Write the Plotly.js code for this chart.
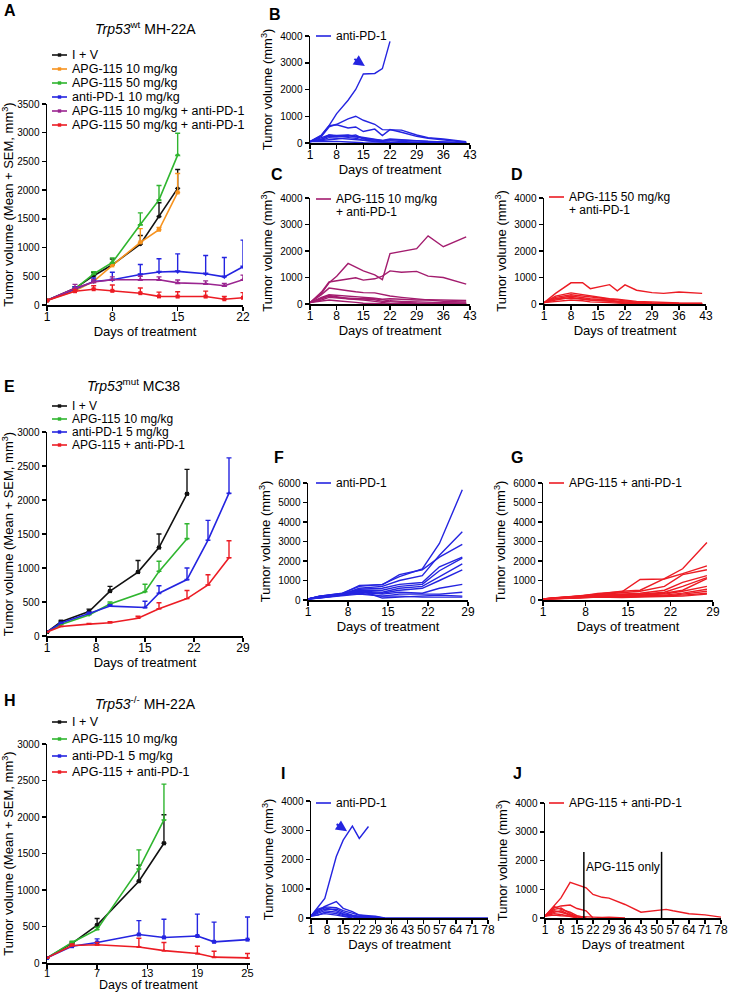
<!DOCTYPE html>
<html>
<head>
<meta charset="utf-8">
<script src="https://cdn.plot.ly/plotly-3.0.1.min.js"></script>
<style>
  html, body { margin:0; padding:0; background:#fff; }
  #fig { width:729px; height:992px; }
</style>
</head>
<body>
<div id="fig"></div>
<script>
// ---------- Panel A: Trp53 wt MH-22A, group mean + SEM ----------
const daysA = [1, 4, 6, 8, 11, 13, 15, 18, 20, 22];
const aIV      = [80, 290, 510, 700, 1060, 1540, 2030];
const aIVsem   = [0, 30, 60, 100, 150, 240, 330];
const aApg10   = [80, 250, 410, 690, 1090, 1310, 1960];
const aApg10sem= [0, 30, 40, 40, 240, 40, 330];
const aApg50   = [80, 280, 540, 740, 1400, 1830, 2610];
const aApg50sem= [0, 30, 40, 80, 205, 250, 380];
const aPD1     = [80, 280, 410, 440, 530, 575, 585, 545, 490, 665];
const aPD1sem  = [0, 40, 60, 130, 176, 230, 306, 318, 336, 465];
const aCombo10    = [80, 290, 400, 440, 440, 440, 385, 370, 335, 440];
const aCombo10sem = [0, 70, 40, 50, 60, 50, 50, 50, 40, 80];
const aCombo50    = [80, 240, 275, 247, 206, 150, 147, 147, 100, 125];
const aCombo50sem = [0, 30, 60, 100, 90, 75, 85, 95, 50, 90];

// ---------- Panel B: anti-PD-1, individual mice ----------
const daysB = [1, 4, 6, 8, 11, 13, 15, 18, 20, 22, 25, 29, 32, 36, 39, 42];
const miceB = [
  [50, 300, 650, 1100, 1600, 2000, 2580, 2600, 2780, 3800],
  [50, 250, 600, 700, 900, 1000, 850, 700, 500, 500, 480, 300, 200, 150, 100, 50],
  [50, 280, 650, 680, 560, 600, 430, 520, 280, 500, 400, 250, 180, 130, 80, 30],
  [50, 200, 300, 280, 300, 250, 200, 150, 100, 80, 50, 30, 20, 10, 0, 0],
  [50, 150, 250, 230, 250, 300, 150, 100, 80, 120, 100, 60, 40, 20, 10, 0],
  [50, 100, 200, 180, 150, 120, 100, 60, 40, 30, 20, 10, 0, 0, 0, 0],
  [50, 80, 120, 150, 200, 180, 100, 50, 30, 20, 10, 0, 0, 0, 0, 0],
  [50, 60, 80, 60, 40, 20, 10, 0, 0, 0],
  [50, 120, 300, 250, 280, 220, 180, 120, 100, 150, 120, 80, 60, 40, 20, 10]
];
const arrowB = [15.4, 2880];

// ---------- Panel C: APG-115 10 mg/kg + anti-PD-1 ----------
const daysC = [1, 4, 6, 8, 11, 13, 15, 18, 20, 22, 25, 29, 32, 36, 42];
const miceC = [
  [50, 400, 800, 1050, 1530, 1400, 1250, 1100, 920, 1900, 1970, 2090, 2570, 2160, 2530],
  [50, 450, 830, 880, 950, 990, 900, 950, 1050, 1250, 1200, 1230, 1050, 1000, 750],
  [50, 350, 600, 550, 500, 460, 430, 420, 350, 300, 250, 200, 150, 100, 80],
  [50, 250, 350, 330, 300, 260, 250, 220, 180, 200, 180, 150, 160, 150, 130],
  [50, 200, 300, 250, 220, 200, 180, 160, 100, 80, 60, 40, 30, 20, 20],
  [50, 150, 250, 230, 200, 180, 150, 100, 50, 20, 10, 0, 0, 0, 0],
  [50, 100, 150, 120, 100, 60, 30, 10, 0, 0, 0, 0, 0, 0, 0],
  [50, 200, 320, 280, 200, 180, 220, 200, 150, 120, 100, 80, 60, 50, 40]
];

// ---------- Panel D: APG-115 50 mg/kg + anti-PD-1 ----------
const daysD = [1, 4, 8, 11, 13, 18, 20, 22, 25, 29, 32, 36, 42];
const miceD = [
  [50, 400, 800, 800, 580, 730, 500, 720, 520, 430, 400, 450, 400],
  [50, 300, 420, 350, 300, 200, 180, 150, 100, 80, 60, 40, 30],
  [50, 250, 350, 300, 250, 180, 150, 100, 70, 40, 20, 10, 10],
  [50, 200, 300, 250, 200, 150, 100, 80, 50, 30, 20, 10, 0],
  [50, 150, 250, 200, 150, 100, 60, 40, 20, 10, 0, 0, 0],
  [50, 100, 150, 120, 80, 50, 30, 20, 10, 0, 0, 0, 0],
  [50, 200, 220, 180, 150, 120, 90, 60, 40, 20, 20, 20, 20]
];

// ---------- Panel E: Trp53 mut MC38, group mean + SEM ----------
const daysEiv = [1, 3, 7, 10, 14, 17, 21];
const eIV     = [60, 210, 360, 660, 940, 1300, 2090];
const eIVsem  = [0, 20, 35, 70, 170, 200, 360];
const daysEapg = [1, 3, 7, 10, 15, 17, 21];
const eApg     = [60, 170, 310, 470, 650, 950, 1430];
const eApgSem  = [0, 10, 15, 30, 110, 150, 220];
const daysEpd1 = [1, 3, 7, 10, 15, 17, 21, 24, 27];
const ePD1     = [60, 190, 330, 440, 420, 630, 830, 1410, 2100];
const ePD1sem  = [0, 10, 20, 20, 90, 110, 170, 290, 520];
const daysEcombo = [1, 3, 7, 10, 14, 17, 21, 24, 27];
const eCombo     = [60, 140, 175, 195, 260, 400, 550, 750, 1150];
const eComboSem  = [0, 5, 10, 15, 30, 90, 120, 150, 250];

// ---------- Panels F, G: MC38 individual mice ----------
const daysFG = [1, 3, 7, 10, 14, 17, 21, 24, 28];
const miceF = [
  [50, 200, 350, 700, 800, 1200, 1600, 2900, 5650],
  [50, 200, 330, 750, 780, 1300, 1550, 2200, 2850],
  [50, 180, 300, 600, 700, 1000, 1250, 2300, 3500],
  [50, 150, 300, 550, 600, 800, 900, 1700, 2200],
  [50, 180, 320, 500, 500, 700, 800, 1500, 2150],
  [50, 150, 280, 450, 400, 600, 700, 1200, 1850],
  [50, 120, 250, 400, 350, 500, 600, 1000, 1550],
  [50, 150, 300, 400, 300, 400, 350, 600, 800],
  [50, 100, 250, 350, 200, 300, 300, 300, 400],
  [50, 130, 280, 500, 100, 150, 200, 250, 200],
  [50, 100, 200, 300, 200, 200, 150, 150, 150]
];
const miceG = [
  [50, 120, 200, 330, 420, 1050, 1080, 1350, 1750],
  [50, 100, 200, 300, 450, 500, 1100, 1600, 2950],
  [50, 100, 180, 280, 350, 450, 700, 1300, 1550],
  [50, 80, 150, 250, 300, 350, 500, 900, 1250],
  [50, 100, 170, 260, 280, 300, 400, 700, 1150],
  [50, 90, 160, 230, 250, 300, 350, 500, 1100],
  [50, 80, 140, 220, 230, 250, 300, 450, 700],
  [50, 70, 130, 200, 200, 220, 250, 350, 550],
  [50, 60, 120, 180, 180, 200, 200, 300, 450],
  [50, 70, 120, 150, 150, 180, 200, 250, 350],
  [50, 60, 100, 150, 120, 150, 180, 200, 300]
];

// ---------- Panel H: Trp53 -/- MH-22A, group mean + SEM ----------
const daysH = [1, 4, 7, 12, 15, 19, 21, 25];
const hIV     = [70, 270, 520, 1120, 1640];
const hIVsem  = [0, 20, 90, 220, 390];
const hApg    = [70, 280, 460, 1290, 1960];
const hApgSem = [0, 20, 30, 260, 490];
const hPD1    = [70, 230, 280, 390, 350, 370, 290, 320];
const hPD1sem = [0, 20, 50, 190, 250, 300, 270, 310];
const hCombo    = [70, 240, 250, 220, 170, 130, 80, 70];
const hComboSem = [0, 20, 30, 120, 110, 100, 80, 60];

// ---------- Panels I, J: Trp53 -/- individual mice ----------
const daysI = [1, 4, 7, 12, 15, 19, 22, 26, 29, 33, 36, 43, 50, 57, 64, 71, 78];
const miceI = [
  [70, 390, 670, 2100, 2660, 3140, 2720, 3130],
  [70, 250, 400, 560, 330, 220, 100, 80, 60, 0, 0, 0, 0, 0, 0, 0, 0],
  [70, 300, 380, 350, 250, 150, 100, 50, 30, 0],
  [70, 200, 300, 300, 200, 100, 60, 40, 20, 0],
  [70, 250, 350, 250, 150, 80, 40, 20, 0],
  [70, 150, 250, 200, 120, 60, 20, 0],
  [70, 100, 200, 150, 80, 30, 0],
  [70, 120, 150, 100, 50, 0]
];
const arrowI = [16.7, 2970];

const daysJ = [1, 5, 8, 12, 15, 19, 22, 26, 29, 36, 43, 50, 54, 57, 64, 71, 78];
const miceJ = [
  [70, 450, 700, 1240, 1150, 1050, 820, 720, 690, 470, 200, 280, 300, 250, 150, 110, 30],
  [70, 350, 420, 450, 330, 250, 0],
  [70, 400, 300, 200, 80, 0],
  [70, 300, 350, 150, 50, 0],
  [70, 250, 200, 100, 30, 0],
  [70, 200, 250, 120, 0],
  [70, 150, 120, 50, 0],
  [70, 100, 80, 60, 50, 40, 30, 20, 30, 0]
];
const apgOnlyDays = [18, 52];
const apgOnlyTop = 2300;

// ---------- colours ----------
const C_BLACK = '#111111', C_ORANGE = '#f7931e', C_GREEN = '#2fb52f', C_BLUE = '#2424e0',
      C_PURPLE = '#9a2590', C_MAROON = '#a31c6e', C_RED = '#ec1c24';

// ---------- helpers ----------
const W = 729, H = 992;
const FONT = 'Arial, "Liberation Sans", sans-serif';
const px = v => v / W;
const py = v => 1 - v / H;
const traces = [], shapes = [], annotations = [];
const layout = {
  width: W, height: H, margin: {l:0, r:0, t:0, b:0},
  paper_bgcolor: '#ffffff', plot_bgcolor: 'rgba(0,0,0,0)', showlegend: false,
  font: {family: FONT, color: '#000'}, shapes, annotations
};

function axes(n, xPx, yPx, xRange, xTicks, yRange, yDtick, yTitle, xTitle) {
  const s = n === 1 ? '' : String(n);
  const common = {
    showline: true, linecolor: '#000', linewidth: 1.5, ticks: 'outside', ticklen: 4,
    tickwidth: 1.5, tickcolor: '#000', showgrid: false, zeroline: false, fixedrange: true
  };
  layout['xaxis' + s] = Object.assign({}, common, {
    domain: [px(xPx[0]), px(xPx[1])], range: xRange, anchor: 'y' + s,
    tickmode: 'array', tickvals: xTicks, tickfont: {size: 12}, ticklabelstandoff: -4,
    title: {text: xTitle === undefined ? 'Days of treatment' : xTitle, font: {size: 13}, standoff: 3}
  });
  layout['yaxis' + s] = Object.assign({}, common, {
    domain: [py(yPx[0]), py(yPx[1])], range: yRange, anchor: 'x' + s,
    tick0: 0, dtick: yDtick, tickfont: {size: 10},
    title: {text: yTitle, font: {size: 13}, standoff: 4}
  });
}

function meanTrace(n, days, vals, sem, color, symbol, size) {
  const s = n === 1 ? '' : String(n);
  traces.push({
    x: days.slice(0, vals.length), y: vals, xaxis: 'x' + s, yaxis: 'y' + s,
    type: 'scatter', mode: 'lines+markers', hoverinfo: 'skip',
    line: {color, width: 1.6}, marker: {color, symbol, size: size || 4},
    error_y: {type: 'data', symmetric: false, array: sem, arrayminus: sem.map(() => 0),
              color, thickness: 1.4, width: 2.5}
  });
}

function miceTraces(n, days, mice, color) {
  const s = n === 1 ? '' : String(n);
  mice.forEach(m => traces.push({
    x: days.slice(0, m.length), y: m, xaxis: 'x' + s, yaxis: 'y' + s,
    type: 'scatter', mode: 'lines', hoverinfo: 'skip', line: {color, width: 1.4}
  }));
}

function legendItem(x, y, color, text, size, withMarker) {
  shapes.push({type: 'line', xref: 'paper', yref: 'paper', x0: px(x), x1: px(x + 15),
               y0: py(y), y1: py(y), line: {color, width: 1.6}});
  if (withMarker) shapes.push({type: 'rect', xref: 'paper', yref: 'paper',
               x0: px(x + 5.8), x1: px(x + 9.2), y0: py(y + 1.7), y1: py(y - 1.7),
               fillcolor: color, line: {width: 0}});
  annotations.push({xref: 'paper', yref: 'paper', x: px(x + 19), y: py(y), xanchor: 'left',
                    yanchor: 'middle', text, showarrow: false, font: {size}, borderpad: 0});
}

function label(x, y, text, size, anchor) {
  annotations.push({xref: 'paper', yref: 'paper', x: px(x), y: py(y), xanchor: anchor || 'left',
                    yanchor: 'middle', text, showarrow: false, font: {size}, borderpad: 0});
}

const wkTicks = [1, 8, 15, 22, 29, 36, 43];
const longTicks = [1, 8, 15, 22, 29, 36, 43, 50, 57, 64, 71, 78];
const meanTitle = 'Tumor volume (Mean + SEM, mm<sup>3</sup>)';
const indTitle = 'Tumor volume (mm<sup>3</sup>)';

// ---------- axes ----------
axes(1,  [47, 243],  [305, 104], [1, 22], [1, 8, 15, 22], [0, 3500], 500, meanTitle);
axes(2,  [310, 470], [143, 36],  [1, 43], wkTicks, [0, 4000], 1000, indTitle);
axes(3,  [310, 470], [304, 198], [1, 43], wkTicks, [0, 4000], 1000, indTitle);
axes(4,  [544, 706], [304, 198], [1, 43], wkTicks, [0, 4000], 1000, indTitle);
axes(5,  [47, 243],  [636, 432], [1, 29], [1, 8, 15, 22, 29], [0, 3000], 500, meanTitle);
axes(6,  [308, 468], [600, 483], [1, 29], [1, 8, 15, 22, 29], [0, 6000], 1000, indTitle);
axes(7,  [543, 713], [600, 483], [1, 29], [1, 8, 15, 22, 29], [0, 6000], 1000, indTitle);
axes(8,  [47, 250],  [963, 744], [1, 25.3], [1, 7, 13, 19, 25], [0, 3000], 500, meanTitle, '');
axes(9,  [311, 488], [918, 801], [1, 78], longTicks, [0, 4000], 1000, indTitle);
axes(10, [545, 721], [918, 803], [1, 78], longTicks, [0, 4000], 1000, indTitle);
layout.xaxis8.tickfont = {size: 11};
layout.xaxis8.ticklabelstandoff = -5;

// ---------- traces ----------
meanTrace(1, daysA, aIV, aIVsem, C_BLACK, 'circle', 4);
meanTrace(1, daysA, aApg10, aApg10sem, C_ORANGE, 'square', 4);
meanTrace(1, daysA, aApg50, aApg50sem, C_GREEN, 'triangle-up', 5);
meanTrace(1, daysA, aPD1, aPD1sem, C_BLUE, 'triangle-down', 5);
meanTrace(1, daysA, aCombo10, aCombo10sem, C_PURPLE, 'triangle-up', 5);
meanTrace(1, daysA, aCombo50, aCombo50sem, C_RED, 'square', 4);

miceTraces(2, daysB, miceB, C_BLUE);
miceTraces(3, daysC, miceC, C_MAROON);
miceTraces(4, daysD, miceD, C_RED);

meanTrace(5, daysEiv, eIV, eIVsem, C_BLACK, 'square', 4);
meanTrace(5, daysEapg, eApg, eApgSem, C_GREEN, 'triangle-down', 4);
meanTrace(5, daysEpd1, ePD1, ePD1sem, C_BLUE, 'triangle-up', 4);
meanTrace(5, daysEcombo, eCombo, eComboSem, C_RED, 'line-ew-open', 3);

miceTraces(6, daysFG, miceF, C_BLUE);
miceTraces(7, daysFG, miceG, C_RED);

meanTrace(8, daysH, hIV, hIVsem, C_BLACK, 'square', 4);
meanTrace(8, daysH, hApg, hApgSem, C_GREEN, 'triangle-up', 4);
meanTrace(8, daysH, hPD1, hPD1sem, C_BLUE, 'square', 4);
meanTrace(8, daysH, hCombo, hComboSem, C_RED, 'triangle-up', 4);

miceTraces(9, daysI, miceI, C_BLUE);
miceTraces(10, daysJ, miceJ, C_RED);

// arrows marking the escaping tumours
[[arrowB, 'x2', 'y2'], [arrowI, 'x9', 'y9']].forEach(([p, xr, yr]) => annotations.push({
  xref: xr, yref: yr, x: p[0], y: p[1], ax: -12, ay: -8, text: '', showarrow: true,
  arrowhead: 2, arrowsize: 1.1, arrowwidth: 2, arrowcolor: C_BLUE, standoff: 0
}));

// APG-115-only window in J
apgOnlyDays.forEach(d => shapes.push({type: 'line', xref: 'x10', yref: 'y10',
  x0: d, x1: d, y0: 0, y1: apgOnlyTop, line: {color: '#000', width: 1.5}}));
annotations.push({xref: 'x10', yref: 'y10', x: (apgOnlyDays[0] + apgOnlyDays[1]) / 2, y: 1780,
  text: 'APG-115 only', showarrow: false, font: {size: 12}});

// ---------- panel letters, titles, legends ----------
[['A', 3, 10], ['B', 268, 14], ['C', 270, 175], ['D', 510, 175], ['E', 3, 386],
 ['F', 273, 457], ['G', 510, 457], ['H', 3, 700], ['I', 280, 773], ['J', 512, 773]]
  .forEach(([t, x, y]) => label(x, y, '<b>' + t + '</b>', 16));

label(145, 28, '<i>Trp53</i><sup>wt</sup> MH-22A', 14, 'center');
label(133, 385, '<i>Trp53</i><sup>mut</sup> MC38', 14, 'center');
label(145, 703, '<i>Trp53</i><sup>-/-</sup> MH-22A', 14, 'center');
// H sits at the page bottom: its x-axis title is placed tight under the ticks
label(148, 985, 'Days of treatment', 12.5, 'center');

legendItem(52, 55, C_BLACK, 'I + V', 12.5, true);
legendItem(52, 69, C_ORANGE, 'APG-115 10 mg/kg', 12.5, true);
legendItem(52, 83, C_GREEN, 'APG-115 50 mg/kg', 12.5, true);
legendItem(52, 97, C_BLUE, 'anti-PD-1 10 mg/kg', 12.5, true);
legendItem(52, 111, C_PURPLE, 'APG-115 10 mg/kg + anti-PD-1', 12.5, true);
legendItem(52, 125, C_RED, 'APG-115 50 mg/kg + anti-PD-1', 12.5, true);

legendItem(316, 36, C_BLUE, 'anti-PD-1', 12);
legendItem(316, 199, C_MAROON, 'APG-115 10 mg/kg', 12);
label(335, 212, '+ anti-PD-1', 12);
legendItem(549, 197, C_RED, 'APG-115 50 mg/kg', 12);
label(568, 210, '+ anti-PD-1', 12);

legendItem(52, 406, C_BLACK, 'I + V', 12, true);
legendItem(52, 419, C_GREEN, 'APG-115 10 mg/kg', 12, true);
legendItem(52, 432, C_BLUE, 'anti-PD-1 5 mg/kg', 12, true);
legendItem(52, 445, C_RED, 'APG-115 + anti-PD-1', 12, true);

legendItem(316, 483, C_BLUE, 'anti-PD-1', 12);
legendItem(549, 483, C_RED, 'APG-115 + anti-PD-1', 12);

legendItem(52, 722, C_BLACK, 'I + V', 12.5, true);
legendItem(52, 739, C_GREEN, 'APG-115 10 mg/kg', 12.5, true);
legendItem(52, 756, C_BLUE, 'anti-PD-1 5 mg/kg', 12.5, true);
legendItem(52, 772, C_RED, 'APG-115 + anti-PD-1', 12.5, true);

legendItem(316, 803, C_BLUE, 'anti-PD-1', 12);
legendItem(549, 803, C_RED, 'APG-115 + anti-PD-1', 12);

Plotly.newPlot('fig', traces, layout, {displayModeBar: false, staticPlot: true});
</script>
</body>
</html>
